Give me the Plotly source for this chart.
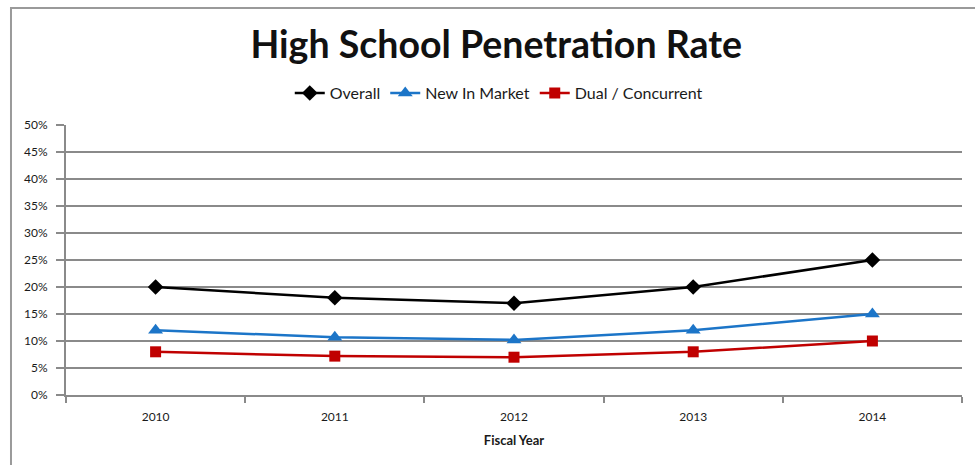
import plotly.graph_objects as go

# Fiscal years and penetration rates (%)
years = ["2010", "2011", "2012", "2013", "2014"]
overall = [20, 18, 17, 20, 25]
new_in_market = [12, 10.7, 10.2, 12, 15]
dual_concurrent = [8, 7.2, 7.0, 8, 10]
y_ticks = [0, 5, 10, 15, 20, 25, 30, 35, 40, 45, 50]
y_tick_text = [f"{v}%" for v in y_ticks]

FONT = "Lato"

fig = go.Figure()
series = [
    ("Overall", overall, "#000000", "diamond", 12),
    ("New In Market", new_in_market, "#1C75C8", "triangle-up", 13),
    ("Dual / Concurrent", dual_concurrent, "#C00000", "square", 11),
]
for name, vals, color, symbol, size in series:
    fig.add_trace(go.Scatter(
        x=years, y=vals, name=name, mode="lines+markers",
        line=dict(color=color, width=2.5),
        marker=dict(symbol=symbol, size=size, color=color),
    ))

# Outer chart border
fig.add_shape(type="rect", xref="paper", yref="paper",
              x0=-0.0614, x1=1.03, y0=-0.30, y1=1.433,
              line=dict(color="#9a9a9a", width=2), layer="below")

fig.update_layout(
    width=975, height=465,
    margin=dict(l=66, r=13, t=125, b=70),
    paper_bgcolor="white", plot_bgcolor="white",
    font=dict(family=FONT, color="#1a1a1a"),
    title=dict(text="<b>High School Penetration Rate</b>",
               x=0.509, xref="container", xanchor="center",
               y=0.903, yref="container", yanchor="middle",
               font=dict(family=FONT, size=37.5, color="#111111")),
    legend=dict(orientation="h", x=0.483, xanchor="center",
                y=1.118, yanchor="middle",
                font=dict(family=FONT, size=16, color="#1a1a1a"),
                itemwidth=30, tracegroupgap=0, bgcolor="rgba(0,0,0,0)"),
    showlegend=True,
)

fig.update_xaxes(
    type="category", tickson="boundaries", range=[-0.5, 4.5],
    ticks="outside", ticklen=6, tickcolor="#8a8a8a", tickwidth=1.5,
    showline=True, linecolor="#8a8a8a", linewidth=2,
    showgrid=False, ticklabelstandoff=10,
    tickfont=dict(family=FONT, size=12, color="#1a1a1a"),
    title=dict(text="<b>Fiscal Year</b>", font=dict(family=FONT, size=13, color="#1a1a1a"),
               standoff=12),
)
fig.update_yaxes(
    range=[0, 50], tickvals=y_ticks, ticktext=y_tick_text,
    ticks="outside", ticklen=8, tickcolor="#8a8a8a", tickwidth=1.5,
    showline=True, linecolor="#8a8a8a", linewidth=2,
    showgrid=True, gridcolor="#8a8a8a", gridwidth=1.5,
    zeroline=False, ticklabelstandoff=6,
    tickfont=dict(family=FONT, size=12, color="#1a1a1a"),
)

fig.write_html("out.html")
